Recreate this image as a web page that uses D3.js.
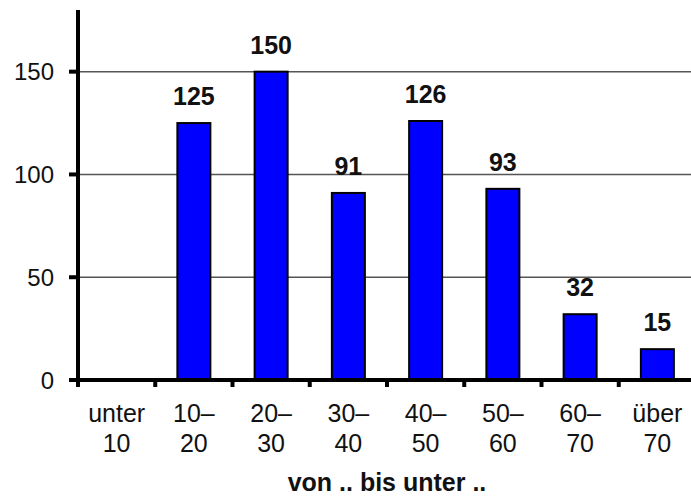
<!DOCTYPE html>
<html>
<head>
<meta charset="utf-8">
<script src="https://cdn.jsdelivr.net/npm/d3@7"></script>
<style>
  body { margin: 0; background: #fff; }
  svg { display: block; font-family: "Liberation Sans", Arial, sans-serif; }
</style>
</head>
<body>
<div id="graph"></div>
<script>
// data
const labelTop = ['unter', '10–', '20–', '30–', '40–', '50–', '60–', 'über'];
const labelBottom = ['10', '20', '30', '40', '50', '60', '70', '70'];
const counts = [0, 125, 150, 91, 126, 93, 32, 15];
const yTicks = [0, 50, 100, 150];
const xTitle = 'von .. bis unter ..';

const w = 691;
const h = 499;
const left = 78;
const bottom = 380;

const cats = labelTop.map((d, i) => i);
const rows = counts.map((v, i) => ({ v, i }));
const xScale = d3.scaleBand().domain(cats).range([left, 696]).padding(0);
const yScale = d3.scaleLinear().domain([0, 180]).range([bottom, 10]);

const svg = d3.select('#graph')
  .append('svg')
  .attr('width', w)
  .attr('height', h);

// gridlines
svg.selectAll('.grid')
  .data(yTicks.filter(d => d > 0))
  .enter()
  .append('line')
  .attr('class', 'grid')
  .attr('x1', left)
  .attr('x2', w)
  .attr('y1', d => yScale(d))
  .attr('y2', d => yScale(d))
  .style('stroke', '#555')
  .style('stroke-width', 1.5);

// bars
const barW = 33;
svg.selectAll('.bar')
  .data(rows.filter(d => d.v > 0))
  .enter()
  .append('rect')
  .attr('class', 'bar')
  .attr('x', d => xScale(d.i) + xScale.bandwidth() / 2 - barW / 2)
  .attr('y', d => yScale(d.v))
  .attr('width', barW)
  .attr('height', d => bottom - yScale(d.v))
  .style('fill', '#0000ff')
  .style('stroke', '#000')
  .style('stroke-width', 2);

// value labels
svg.selectAll('.val')
  .data(rows.filter(d => d.v > 0))
  .enter()
  .append('text')
  .attr('class', 'val')
  .attr('x', d => xScale(d.i) + xScale.bandwidth() / 2)
  .attr('y', d => yScale(d.v) - 18)
  .attr('text-anchor', 'middle')
  .style('font-size', '25px')
  .style('font-weight', 'bold')
  .style('fill', '#111')
  .text(d => d.v);

// y axis
svg.append('line')
  .attr('x1', left).attr('x2', left)
  .attr('y1', 10).attr('y2', bottom + 2)
  .style('stroke', '#000').style('stroke-width', 4);

svg.selectAll('.ytick')
  .data(yTicks)
  .enter()
  .append('line')
  .attr('x1', 69).attr('x2', left)
  .attr('y1', d => yScale(d)).attr('y2', d => yScale(d))
  .style('stroke', '#000').style('stroke-width', 4);

svg.selectAll('.ylab')
  .data(yTicks)
  .enter()
  .append('text')
  .attr('x', 54)
  .attr('y', d => yScale(d))
  .attr('dy', '0.36em')
  .attr('text-anchor', 'end')
  .style('font-size', '24px')
  .style('fill', '#111')
  .text(d => d);

// x axis
svg.append('line')
  .attr('x1', left - 2).attr('x2', w)
  .attr('y1', bottom).attr('y2', bottom)
  .style('stroke', '#000').style('stroke-width', 4);

svg.selectAll('.xtick')
  .data(cats)
  .enter()
  .append('line')
  .attr('x1', d => xScale(d)).attr('x2', d => xScale(d))
  .attr('y1', bottom).attr('y2', bottom + 7)
  .style('stroke', '#000').style('stroke-width', 4);

const xl = svg.selectAll('.xlab')
  .data(cats)
  .enter()
  .append('text')
  .attr('text-anchor', 'middle')
  .style('font-size', '25px')
  .style('fill', '#111');
xl.append('tspan')
  .attr('x', d => xScale(d) + xScale.bandwidth() / 2)
  .attr('y', 422)
  .text(d => labelTop[d]);
xl.append('tspan')
  .attr('x', d => xScale(d) + xScale.bandwidth() / 2)
  .attr('y', 452)
  .text(d => labelBottom[d]);

svg.append('text')
  .attr('x', (left + 696) / 2)
  .attr('y', 491)
  .attr('text-anchor', 'middle')
  .style('font-size', '25px')
  .style('font-weight', 'bold')
  .style('fill', '#111')
  .text(xTitle);
</script>
</body>
</html>
